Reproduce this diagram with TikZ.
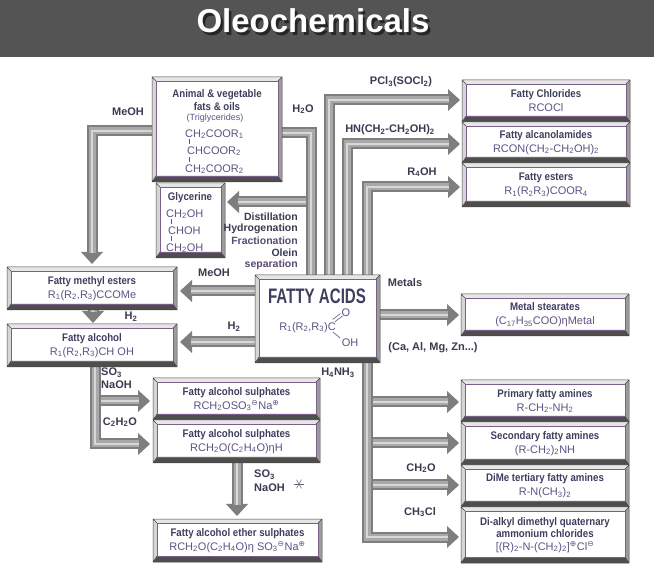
\documentclass[tikz,border=0pt]{standalone}
\usepackage{fontspec}
\setmainfont{Liberation Sans}
\newfontfamily\cond[FakeStretch=0.88]{Liberation Sans}
\newfontfamily\facond[FakeStretch=0.72]{Liberation Sans}
\newfontfamily\dejavu{DejaVu Sans}
\usetikzlibrary{arrows.meta}
\pgfdeclarelayer{pipes}
\pgfdeclarelayer{bottom}
\pgfsetlayers{bottom,pipes,main}
\definecolor{tcol}{HTML}{3E3F5E}
\definecolor{fcol}{HTML}{5E5384}
\definecolor{lcol}{HTML}{3A3B50}
\definecolor{pcol}{HTML}{5A4A72}
\definecolor{bandcol}{HTML}{545454}
\definecolor{pipeA}{HTML}{7E7E7E}
\definecolor{pipeB}{HTML}{A9A9A9}
\definecolor{pipeC}{HTML}{D8D8D8}
\definecolor{bvT}{HTML}{E6E6E6}
\definecolor{bvL}{HTML}{D6D6D6}
\definecolor{bvR}{HTML}{9C9C9C}
\definecolor{bvB}{HTML}{4E4E4E}
\definecolor{bvline}{HTML}{474747}
\definecolor{bvin}{HTML}{7A5F8A}
\newcommand\sbs[1]{\textsubscript{#1}}
\newcommand\chp{\textsuperscript{\dejavu ⊕}}
\newcommand\chm{\textsuperscript{\dejavu ⊖}}
\newcommand\tb[1]{{\cond\bfseries\color{tcol}#1}}
\newcommand\fm[1]{{\color{fcol}#1}}
\newcommand\pipeA[1]{%
  \draw[pipe0,-{Triangle[width=22pt,length=12pt,line width=0pt]}] #1;
  \draw[pipe1,shorten >=11pt] #1;
  \draw[pipe2,shorten >=11pt] #1;}
\newcommand\pipeN[1]{\draw[pipe0] #1; \draw[pipe1] #1; \draw[pipe2] #1;}
\tikzset{
  pipe0/.style={line width=11pt, draw=pipeA, line join=miter},
  pipe1/.style={line width=7pt, draw=pipeB, line join=miter},
  pipe2/.style={line width=2.5pt, draw=pipeC, line join=miter},
  bx/.style={fill=white, inner sep=0pt, outer sep=0pt, align=center,
    font=\fontsize{11}{14}\selectfont, text=fcol},
  lab/.style={inner sep=0pt, font=\fontsize{11}{12}\selectfont\bfseries, text=lcol},
  dlab/.style={inner sep=0pt, anchor=east, font=\fontsize{10.5}{12}\selectfont\bfseries, text=lcol},
  txt/.style={inner sep=0pt, font=\fontsize{11}{13}\selectfont},
  bond/.style={draw=fcol, line width=0.6pt}
}
\begin{document}
\begin{tikzpicture}[x=1pt,y=-1pt]
\useasboundingbox (0,0) rectangle (654,577);
\begin{pgfonlayer}{bottom}
\fill[white] (0,0) rectangle (654,577);
\fill[bandcol] (0,0) rectangle (654,57);
\end{pgfonlayer}
% title with its shadow in one node
\node[inner sep=0pt, font=\fontsize{33}{33}\selectfont\bfseries, text=white] (title) at (313,22)
  {\makebox[0pt][l]{\hspace{2.5pt}\raisebox{-2.5pt}{\color{black!85}Oleochemicals}}Oleochemicals};

% ---------- boxes ----------
\node[bx, minimum width=130pt, minimum height=105pt] (animal) at (217,129.5) {};
\node[bx, minimum width=69pt, minimum height=75pt] (glyc) at (190.5,220.5) {};
\node[bx, minimum width=125pt, minimum height=88pt] (fa) at (317.5,319) {};
\node[bx, minimum width=168pt, minimum height=42pt] (fchl) at (546,101) {\tb{Fatty Chlorides}\\\fm{RCOCl}};
\node[bx, minimum width=168pt, minimum height=41pt] (falc) at (546,142.5) {\tb{Fatty alcanolamides}\\\fm{RCON(CH\sbs2-CH\sbs2OH)\sbs2}};
\node[bx, minimum width=168pt, minimum height=44pt] (fest) at (546,185) {\tb{Fatty esters}\\\fm{R\sbs1(R\sbs2R\sbs3)COOR\sbs4}};
\node[bx, minimum width=168pt, minimum height=42pt] (mst) at (545,315) {\tb{Metal stearates}\\\fm{(C\sbs{17}H\sbs{35}COO)ηMetal}};
\node[bx, minimum width=168pt, minimum height=42pt] (prim) at (545,401) {\tb{Primary fatty amines}\\\fm{R-CH\sbs2-NH\sbs2}};
\node[bx, minimum width=168pt, minimum height=43pt] (sec) at (545,443.5) {\tb{Secondary fatty amines}\\\fm{(R-CH\sbs2)\sbs2NH}};
\node[bx, minimum width=168pt, minimum height=42pt] (dime) at (545,486) {\tb{DiMe tertiary fatty amines}\\\fm{R-N(CH\sbs3)\sbs2}};
\node[bx, minimum width=168pt, minimum height=56pt] (quat) at (545,535) {\tb{Di-alkyl dimethyl quaternary}\\[-2pt]\tb{ammonium chlorides}\\[-1pt]\fm{[(R)\sbs2-N-(CH\sbs2)\sbs2]\chp Cl\chm}};
\node[bx, minimum width=170pt, minimum height=43pt] (fme) at (92,288.5) {\tb{Fatty methyl esters}\\\fm{R\sbs1(R\sbs2,R\sbs3)CCOMe}};
\node[bx, minimum width=170pt, minimum height=43pt] (falco) at (92,345.5) {\tb{Fatty alcohol}\\\fm{R\sbs1(R\sbs2,R\sbs3)CH OH}};
\node[bx, minimum width=167pt, minimum height=42pt] (fas1) at (236.5,399) {\tb{Fatty alcohol sulphates}\\\fm{RCH\sbs2OSO\sbs3\chm Na\chp}};
\node[bx, minimum width=167pt, minimum height=43pt] (fas2) at (236.5,441.5) {\tb{Fatty alcohol sulphates}\\\fm{RCH\sbs2O(C\sbs2H\sbs4O)ηH}};
\node[bx, minimum width=169pt, minimum height=43pt] (fes) at (237.5,540.5) {\tb{Fatty alcohol ether sulphates}\\\fm{RCH\sbs2O(C\sbs2H\sbs4O)η SO\sbs3\chm Na\chp}};

% ---------- pipes (below the boxes) ----------
\begin{pgfonlayer}{pipes}
\coordinate (c1) at (92,131);
\pipeA{(animal.west |- c1) -- (c1) -- ([yshift=3pt]fme.north)}
\coordinate (c3) at (311,202);
\pipeA{(c3) -- ([xshift=2pt]glyc.east |- c3)}
\coordinate (c2) at (311,133);
\pipeN{(animal.east |- c2) -- (c2) -- ([yshift=-3pt]c2 |- fa.north)}
\coordinate (c4) at (329,100);
\pipeA{([yshift=-3pt]c4 |- fa.north) -- (c4) -- ([xshift=-2pt]fchl.west |- c4)}
\coordinate (c5) at (347,144);
\pipeA{([yshift=-3pt]c5 |- fa.north) -- (c5) -- ([xshift=-2pt]falc.west |- c5)}
\coordinate (c6) at (367,187);
\pipeA{([yshift=-3pt]c6 |- fa.north) -- (c6) -- ([xshift=-2pt]fest.west |- c6)}
\pipeA{([xshift=-3pt]fa.east |- mst.west) -- ([xshift=-2pt]mst.west)}
\coordinate (c7) at (0,291);
\pipeA{([xshift=3pt]fa.west |- c7) -- ([xshift=3pt]fme.east |- c7)}
\coordinate (c8) at (0,342);
\pipeA{([xshift=3pt]fa.west |- c8) -- ([xshift=3pt]falco.east |- c8)}
\coordinate (c9) at (93,0);
\pipeA{([yshift=6pt]c9 |- fme.south) -- ([yshift=1pt]c9 |- falco.north)}
\coordinate (b1) at (367,402);
\pipeA{(b1) -- ([xshift=-2pt]prim.west |- b1)}
\coordinate (b2) at (367,443);
\pipeA{(b2) -- ([xshift=-2pt]sec.west |- b2)}
\coordinate (b3) at (367,485);
\pipeA{(b3) -- ([xshift=-2pt]dime.west |- b3)}
\coordinate (c10) at (367,537);
\pipeA{([yshift=3pt]c10 |- fa.south) -- (c10) -- ([xshift=-2pt]quat.west |- c10)}
\coordinate (b4) at (95,401);
\pipeA{(b4) -- ([xshift=-3pt]fas1.west |- b4)}
\coordinate (c11) at (95,444);
\pipeA{([yshift=3pt]c11 |- falco.south) -- (c11) -- ([xshift=-3pt]fas2.west |- c11)}
\coordinate (c12) at (237,0);
\pipeA{([yshift=3pt]c12 |- fas2.south) -- ([yshift=3pt]c12 |- fes.north)}
\end{pgfonlayer}

% ---------- bevels ----------
\foreach \n in {animal,glyc,fa,fchl,falc,fest,mst,prim,sec,dime,quat,fme,falco,fas1,fas2,fes} {
  \coordinate (A) at (\n.north west);
  \coordinate (B) at (\n.north east);
  \coordinate (C) at (\n.south east);
  \coordinate (D) at (\n.south west);
  \coordinate (a) at ([xshift=4pt,yshift=-4pt]\n.north west);
  \coordinate (b) at ([xshift=-4pt,yshift=-4pt]\n.north east);
  \coordinate (c) at ([xshift=-4pt,yshift=6pt]\n.south east);
  \coordinate (d) at ([xshift=4pt,yshift=6pt]\n.south west);
  \fill[bvT] (A) -- (B) -- (b) -- (a) -- cycle;
  \fill[bvR] (B) -- (C) -- (c) -- (b) -- cycle;
  \fill[bvB] (C) -- (D) -- (d) -- (c) -- cycle;
  \fill[bvL] (D) -- (A) -- (a) -- (d) -- cycle;
  \draw[bvline, line width=0.5pt] (A) -- (B) -- (C) -- (D) -- cycle (A) -- (a) (B) -- (b) (C) -- (c) (D) -- (d);
  \draw[bvin, line width=0.5pt] (a) -- (b) -- (c) -- (d) -- cycle;
}

% ---------- texts inside special boxes ----------
\node[txt] (an1) at (217,95) {\tb{Animal \& vegetable}};
\node[txt] (an2) at (217,106.5) {\tb{fats \& oils}};
\node[inner sep=0pt, font=\fontsize{9}{10}\selectfont, text=fcol] (an3) at (215,118.5) {(Triglycerides)};
\node[txt, anchor=west] (an4) at (185,134) {\fm{CH\sbs2COOR\sbs1}};
\node[txt, anchor=west] (an5) at (187,151) {\fm{CHCOOR\sbs2}};
\node[txt, anchor=west] (an6) at (185,169) {\fm{CH\sbs2COOR\sbs2}};
\draw[bond] (189,139.5) -- (189,144.5);
\draw[bond] (189,157) -- (189,162);

\node[txt] (gl1) at (190,198) {\tb{Glycerine}};
\node[txt, anchor=west] (gl2) at (166,214) {\fm{CH\sbs2OH}};
\node[txt, anchor=west] (gl3) at (168,231) {\fm{CHOH}};
\node[txt, anchor=west] (gl4) at (166,248) {\fm{CH\sbs2OH}};
\draw[bond] (171,219.5) -- (171,224.5);
\draw[bond] (171,236.5) -- (171,241.5);

\node[inner sep=0pt, font=\facond\fontsize{21}{21}\selectfont\bfseries, text=tcol] (fa1) at (317,296) {FATTY ACIDS};
\node[txt, anchor=east] (fa2) at (336,327.5) {\fm{R\sbs1(R\sbs2,R\sbs3)C}};
\node[txt] (fa3) at (346,313) {\fm{O}};
\node[txt] (fa4) at (350,343) {\fm{OH}};
\draw[bond] (332.5,319.5) -- (340.5,313.5);
\draw[bond] (334.5,322) -- (342.5,316);
\draw[bond] (333,332) -- (340,338);

% ---------- labels ----------
\node[lab] (l1) at (128,112) {MeOH};
\node[lab] (l2) at (303,109) {H\sbs2O};
\node[lab] (l3) at (401,82) {PCl\sbs3(SOCl\sbs2)};
\node[lab] (l4) at (390,130) {HN(CH\sbs2-CH\sbs2OH)\sbs2};
\node[lab] (l5) at (422,172) {R\sbs4OH};
\node[dlab] (d1) at (298,217) {Distillation};
\node[dlab] (d2) at (298,229) {Hydrogenation};
\node[dlab, text=pcol] (d3) at (298,241) {Fractionation};
\node[dlab] (d4) at (298,253) {Olein};
\node[dlab, text=pcol] (d5) at (298,264.5) {separation};
\node[lab] (l6) at (214,273) {MeOH};
\node[lab] (l7) at (234,327) {H\sbs2};
\node[lab] (l8) at (131,317) {H\sbs2};
\node[lab] (l9) at (405,283) {Metals};
\node[lab] (l10) at (433,348) {(Ca, Al, Mg, Zn...)};
\node[lab] (l11) at (338,373) {H\sbs4NH\sbs3};
\node[lab] (l12) at (421,468) {CH\sbs2O};
\node[lab] (l13) at (420,512) {CH\sbs3Cl};
\node[lab, anchor=west] (l14) at (101,373) {SO\sbs3};
\node[lab, anchor=west] (l15) at (101,385) {NaOH};
\node[lab] (l16) at (120,422) {C\sbs2H\sbs2O};
\node[lab, anchor=west] (l17) at (254,475) {SO\sbs3};
\node[lab, anchor=west] (l18) at (254,488) {NaOH};
\coordinate (ast) at (299,484);
\foreach \ang in {0,60,120} {
  \draw[lcol!80, line width=0.5pt] ([shift={(\ang:5pt)}]ast) -- ([shift={(\ang+180:5pt)}]ast);
}
\end{tikzpicture}
\end{document}
